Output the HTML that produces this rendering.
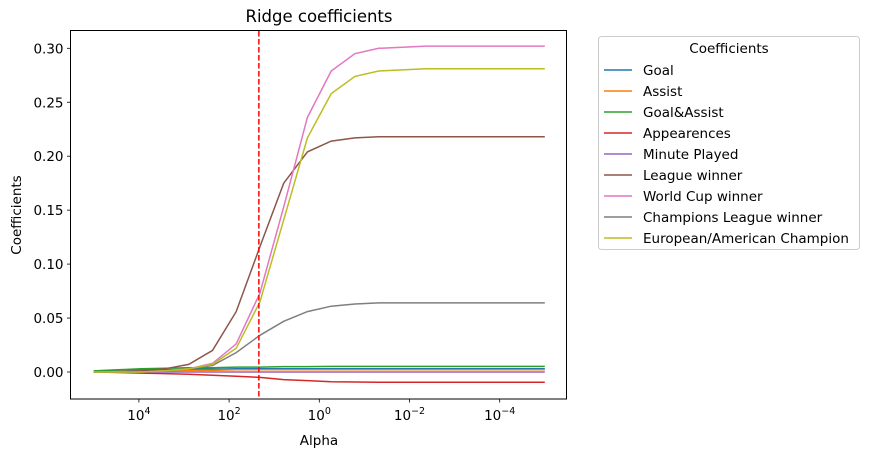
<!DOCTYPE html>
<html><head><meta charset="utf-8">
<style>
html,body{margin:0;padding:0;background:#fff;}
svg{display:block;font-family:"DejaVu Sans","Liberation Sans",sans-serif;}
</style></head>
<body>
<svg id="chart" width="870" height="457" viewBox="0 0 870 457" xmlns="http://www.w3.org/2000/svg">
<rect width="870" height="457" fill="#fff"/>
<text x="319" y="22" font-size="16.5" text-anchor="middle" fill="#000">Ridge coefficients</text>
<g id="plot"></g>
<rect x="70.5" y="30.5" width="496" height="368.5" fill="none" stroke="#000" stroke-width="1"/>
<text x="319" y="445" font-size="13.5" text-anchor="middle">Alpha</text>
<text transform="translate(21,215) rotate(-90)" font-size="13.5" text-anchor="middle">Coefficients</text>
<g id="legend"></g>
</svg>
<script>
const logAlphas = [5,4.474,3.947,3.421,2.895,2.368,1.842,1.316,0.789,0.263,-0.263,-0.789,-1.316,-1.842,-2.368,-2.895,-3.421,-3.947,-4.474,-5];
const seriesNames = ["Goal","Assist","Goal&Assist","Appearences","Minute Played","League winner","World Cup winner","Champions League winner","European/American Champion"];
const goal = [0.001,0.0015,0.002,0.002,0.0025,0.0025,0.003,0.003,0.003,0.003,0.003,0.003,0.003,0.003,0.003,0.003,0.003,0.003,0.003,0.003];
const assist = [0,0.0005,0.001,0.001,0.0015,0.0015,0.002,0.002,0.002,0.002,0.002,0.002,0.002,0.002,0.002,0.002,0.002,0.002,0.002,0.002];
const goalAssist = [0.001,0.002,0.003,0.0035,0.004,0.004,0.0045,0.0045,0.005,0.005,0.0052,0.0052,0.0052,0.0052,0.0052,0.0052,0.0052,0.0052,0.0052,0.0052];
const appearences = [0,-0.0005,-0.001,-0.0015,-0.002,-0.003,-0.004,-0.005,-0.007,-0.008,-0.009,-0.0093,-0.0095,-0.0095,-0.0095,-0.0095,-0.0095,-0.0095,-0.0095,-0.0095];
const minutePlayed = [0,0,0,0,0,0,0,0,0,0,0,0,0,0,0,0,0,0,0,0];
const leagueWinner = [0,0,0.001,0.003,0.007,0.020,0.056,0.116,0.175,0.204,0.214,0.217,0.218,0.218,0.218,0.218,0.218,0.218,0.218,0.218];
const worldCupWinner = [0,0,0,0.001,0.003,0.008,0.026,0.073,0.153,0.236,0.279,0.295,0.300,0.301,0.302,0.302,0.302,0.302,0.302,0.302];
const championsLeague = [0,0,0,0.001,0.003,0.006,0.018,0.034,0.047,0.056,0.061,0.063,0.064,0.064,0.064,0.064,0.064,0.064,0.064,0.064];
const euroAmChampion = [0,0,0,0.001,0.003,0.007,0.022,0.065,0.141,0.217,0.258,0.274,0.279,0.280,0.281,0.281,0.281,0.281,0.281,0.281];
const seriesValues = [goal,assist,goalAssist,appearences,minutePlayed,leagueWinner,worldCupWinner,championsLeague,euroAmChampion];
const colors = ["#1f77b4","#ff7f0e","#2ca02c","#d62728","#9467bd","#8c564b","#e377c2","#7f7f7f","#bcbd22"];
const xTickLogs = [4,2,0,-2,-4];
const xTickLabels = ["4","2","0","\u22122","\u22124"];
const yTicks = [0,0.05,0.10,0.15,0.20,0.25,0.30];
const yTickLabels = ["0.00","0.05","0.10","0.15","0.20","0.25","0.30"];
const bestLogAlpha = 1.34;

const NS="http://www.w3.org/2000/svg";
const xs = l => 319.3 - 45.1*l;
const ys = v => 372 - v*1079;
const plot=document.getElementById('plot');
function mk(tag,attrs,parent){const e=document.createElementNS(NS,tag);for(const k in attrs)e.setAttribute(k,attrs[k]);(parent||plot).appendChild(e);return e;}

xTickLogs.forEach((l,i)=>{
  const x=xs(l);
  const t=mk('line',{x1:x,x2:x,y1:399,y2:402.5,stroke:'#000','stroke-width':0.8});
  
  
  const tx=mk('text',{x:x,y:420,'font-size':13.5,'text-anchor':'middle'});
  
  
  tx.appendChild(document.createTextNode('10'));
  const sup=mk('tspan',{dy:-6,'font-size':9.5},tx);
  sup.textContent=xTickLabels[i];
});
yTicks.forEach((v,i)=>{
  const y=ys(v);
  const t=mk('line',{x1:67,x2:70.5,y1:y,y2:y,stroke:'#000','stroke-width':0.8});
  
  
  const tx=mk('text',{x:63.5,y:y+5,'font-size':13.5,'text-anchor':'end'});
  
  
  tx.textContent=yTickLabels[i];
});
seriesValues.forEach((vals,s)=>{
  const d=vals.map((v,i)=>(i?'L':'M')+xs(logAlphas[i]).toFixed(1)+','+ys(v).toFixed(1)).join(' ');
  const p=mk('path',{d:d,fill:'none',stroke:colors[s],'stroke-width':1.5});
  
  
});
const bx=xs(bestLogAlpha);
const bl=mk('line',{x1:bx,x2:bx,y1:31,y2:399,stroke:'#ff0000','stroke-width':1.5,'stroke-dasharray':'5.5,2.5'});



const lg=document.getElementById('legend');
const box=mk('rect',{x:598.5,y:36.5,width:261,height:213,rx:3,fill:'#fff',stroke:'#ccc'},lg);


const lt=mk('text',{x:729,y:53,'font-size':13.5,'text-anchor':'middle'},lg);


lt.textContent='Coefficients';
seriesNames.forEach((n,i)=>{
  const y=70+i*21;
  const g=mk('g',{},lg);
  
  
  mk('line',{x1:604,x2:632,y1:y,y2:y,stroke:colors[i],'stroke-width':1.5},g);
  const t=mk('text',{x:643,y:y+5,'font-size':13.5},g);
  t.textContent=n;
});
</script>
</body></html>
